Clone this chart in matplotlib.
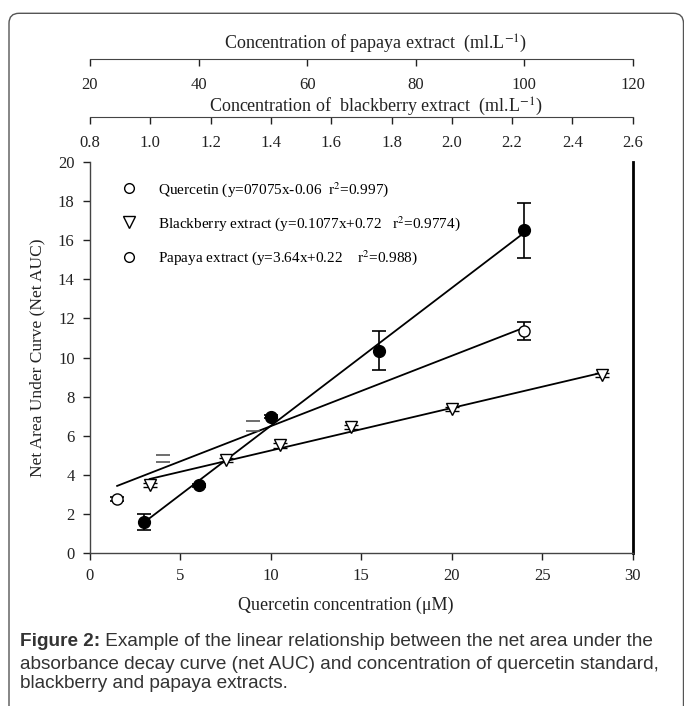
import matplotlib
matplotlib.use("Agg")
import matplotlib.pyplot as plt
import numpy as np
from matplotlib.lines import Line2D
from matplotlib.patches import FancyBboxPatch

plt.rcParams["font.family"] = ["Liberation Serif", "DejaVu Serif"]
plt.rcParams["mathtext.fontset"] = "stix"

# quercetin standard (filled circles)
quercetin_x = [3, 6, 10, 16, 24]
quercetin_y = [1.6, 3.47, 6.97, 10.35, 16.5]
quercetin_err = [0.4, 0.08, 0.08, 1.0, 1.4]

# blackberry extract (open down-triangles)
blackberry_x = [3.3, 7.5, 10.5, 14.45, 20, 28.3]
blackberry_y = [3.5, 4.78, 5.5, 6.45, 7.36, 9.1]
blackberry_err = [0.1, 0.1, 0.12, 0.1, 0.12, 0.1]

# papaya extract (open circles), two points only show their caps
papaya_x = [1.5, 24]
papaya_y = [2.76, 11.35]
papaya_err = [0.1, 0.45]
papaya_caps_x = [4.05, 9.0]
papaya_caps_y = [4.83, 6.5]
papaya_caps_err = [0.18, 0.27]

x_ticks = [0, 5, 10, 15, 20, 25, 30]
y_ticks = [0, 2, 4, 6, 8, 10, 12, 14, 16, 18, 20]
papaya_ticks = [20, 40, 60, 80, 100, 120]
blackberry_ticks = [0.8, 1.0, 1.2, 1.4, 1.6, 1.8, 2.0, 2.2, 2.4, 2.6]

legend_labels = [
    "Quercetin (y=07075x-0.06  r$^2$=0.997)",
    "Blackberry extract (y=0.1077x+0.72   r$^2$=0.9774)",
    "Papaya extract (y=3.64x+0.22    r$^2$=0.988)",
]

W, H = 684, 706
fig = plt.figure(figsize=(W / 100, H / 100), dpi=100)


def fx(px):
    return px / W


def fy(py):
    return 1 - py / H


# outer frame
frame = FancyBboxPatch(
    (0.09, -0.3), 6.745, 7.227,
    boxstyle="round,pad=0,rounding_size=0.1",
    transform=fig.dpi_scale_trans, fill=False, edgecolor="#555555", linewidth=1,
)
fig.patches.append(frame)

left, right, top, bottom = 90, 632.7, 162, 553
ax = fig.add_axes([fx(left), fy(bottom), fx(right - left), (bottom - top) / H])

tick_kw = dict(direction="out", length=5, width=1, labelsize=12, colors="#222222")

# fitted lines
for xs, ys in [
    (quercetin_x, quercetin_y),
    (papaya_x + papaya_caps_x, papaya_y + papaya_caps_y),
    (blackberry_x, blackberry_y),
]:
    slope, intercept = np.polyfit(xs, ys, 1)
    xx = np.array([min(xs), max(xs)])
    ax.plot(xx, slope * xx + intercept, color="black", linewidth=1.3, zorder=2)

ax.errorbar(quercetin_x, quercetin_y, yerr=quercetin_err, fmt="o", color="black",
            markersize=8.5, capsize=5, elinewidth=1.2, capthick=1.2, zorder=3)
ax.errorbar(blackberry_x, blackberry_y, yerr=blackberry_err, fmt="v", color="black",
            markerfacecolor="white", markersize=9, capsize=5, elinewidth=1,
            capthick=1, zorder=3)
ax.errorbar(papaya_x, papaya_y, yerr=papaya_err, fmt="o", color="black",
            markerfacecolor="white", markersize=8, capsize=5, elinewidth=1.2,
            capthick=1.2, zorder=3)
ax.errorbar(papaya_caps_x, papaya_caps_y, yerr=papaya_caps_err, fmt="none",
            ecolor="#555555", capsize=5, elinewidth=0, capthick=1.2, zorder=3)

ax.set_xlim(0, 30)
ax.set_ylim(0, 20)
ax.set_xticks(x_ticks)
ax.set_yticks(y_ticks)
ax.tick_params(axis="both", pad=6, **tick_kw)
ax.spines["top"].set_visible(False)
ax.spines["right"].set_linewidth(2)
ax.spines["right"].set_color("black")
for s in ["left", "bottom"]:
    ax.spines[s].set_linewidth(1)
    ax.spines[s].set_color("#444444")
ax.set_ylabel("Net Area Under Curve (Net AUC)", fontsize=12.5, labelpad=9,
              color="#222222")

handles = [
    Line2D([], [], marker="o", linestyle="none", markerfacecolor="white",
           markeredgecolor="black", markersize=7),
    Line2D([], [], marker="v", linestyle="none", markerfacecolor="white",
           markeredgecolor="black", markersize=8),
    Line2D([], [], marker="o", linestyle="none", markerfacecolor="white",
           markeredgecolor="black", markersize=7),
]
ax.legend(handles, legend_labels, loc="upper left", frameon=False, fontsize=11,
          bbox_to_anchor=(fx(114), fy(172)), bbox_transform=fig.transFigure,
          handlelength=1.0, handletextpad=1.35, labelspacing=1.0, borderpad=0)

fig.text(fx(346), fy(605), "Quercetin concentration (\u03bcM)", fontsize=13,
         ha="center", va="center", color="#222222")

# top axes: papaya and blackberry concentration scales
for line_y, lim, ticks, fmt, title, title_y in [
    (59, (20, 120), papaya_ticks, "{:g}",
     "Concentration of papaya extract  (ml.L$^{-1}$)", 44),
    (117, (0.8, 2.6), blackberry_ticks, "{:.1f}",
     "Concentration of  blackberry extract  (ml.L$^{-1}$)", 106.5),
]:
    tax = fig.add_axes([fx(left), fy(line_y), fx(right - left), 0.0001])
    tax.set_xlim(*lim)
    tax.set_xticks(ticks)
    tax.set_xticklabels([fmt.format(t) for t in ticks])
    tax.set_yticks([])
    tax.tick_params(axis="x", pad=8, **tick_kw)
    for s in ["top", "left", "right"]:
        tax.spines[s].set_visible(False)
    tax.spines["bottom"].set_color("#444444")
    tax.patch.set_visible(False)
    fig.text(fx(376), fy(title_y), title, fontsize=13, ha="center", va="center",
             color="#222222")

# caption
cap_kw = dict(family=["Liberation Sans", "DejaVu Sans"], fontsize=13.7, color="#333333")
t1 = fig.text(fx(20), fy(641), "Figure 2:", fontweight="bold", va="center", **cap_kw)
ax.annotate(" Example of the linear relationship between the net area under the",
            xy=(1, 0), xycoords=t1, va="bottom", ha="left", annotation_clip=False,
            **cap_kw)
fig.text(fx(20), fy(674),
         "absorbance decay curve (net AUC) and concentration of quercetin standard,\n"
         "blackberry and papaya extracts.",
         va="center", linespacing=1.2, **cap_kw)

fig.savefig("out.png", dpi=100)
